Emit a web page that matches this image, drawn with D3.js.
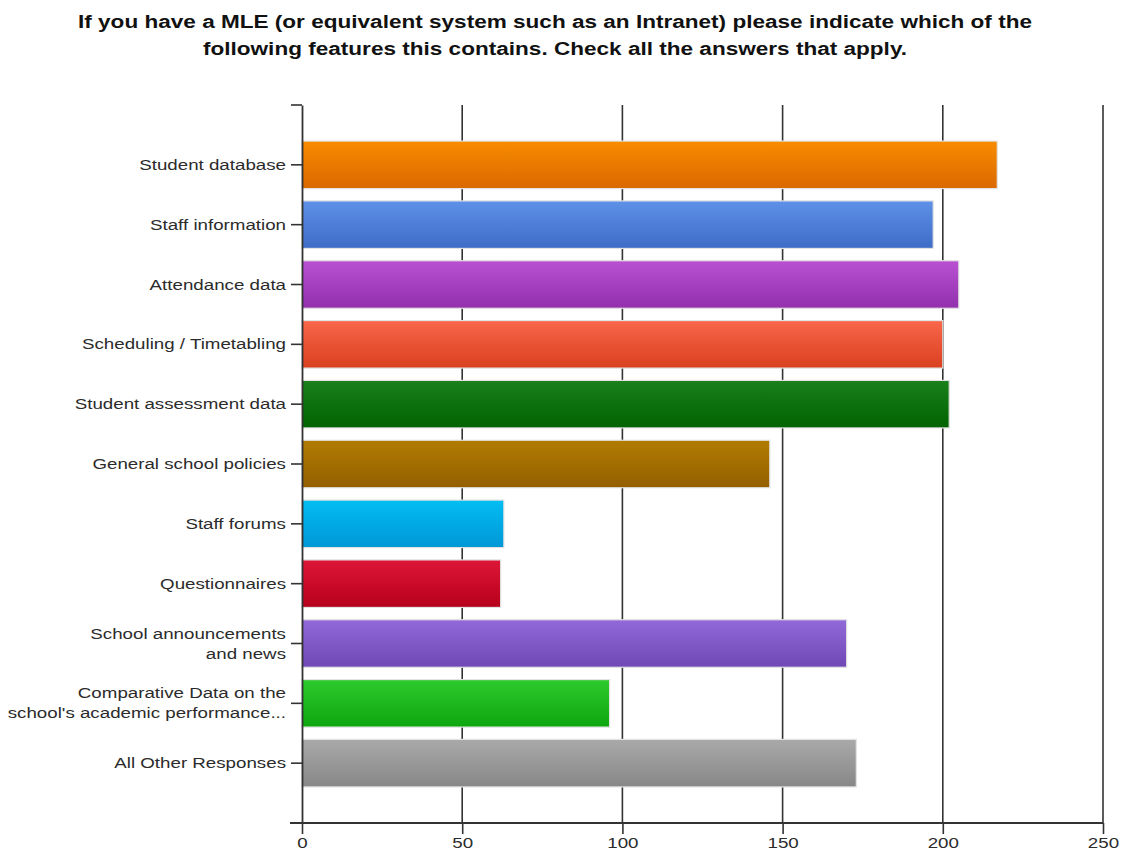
<!DOCTYPE html>
<html>
<head>
<meta charset="utf-8">
<script src="https://cdn.jsdelivr.net/npm/d3@7"></script>
<style>
  html, body { margin: 0; padding: 0; background: #fff; }
  svg { display: block; }
</style>
</head>
<body>
<svg id="chart" width="1123" height="854"></svg>
<script>
// Survey answers: feature present in the school's MLE / intranet
const categories = [
  "Student database",
  "Staff information",
  "Attendance data",
  "Scheduling / Timetabling",
  "Student assessment data",
  "General school policies",
  "Staff forums",
  "Questionnaires",
  "School announcements\nand news",
  "Comparative Data on the\nschool's academic performance...",
  "All Other Responses"
];
const counts = [217, 197, 205, 200, 202, 146, 63, 62, 170, 96, 173];
// top / bottom shades of each bar's vertical gradient
const colorsTop    = ["#f88c00", "#5e91e8", "#b950d2", "#f9664a", "#1a801a", "#b27c02", "#03bdf3", "#dd1637", "#9169d8", "#2dca2d", "#a9a9a9"];
const colorsBottom = ["#da6800", "#3e6cc6", "#9230ae", "#d9401f", "#006300", "#935f00", "#0097d6", "#b6001b", "#6f48b6", "#0ea60e", "#878787"];
const xTicks = [0, 50, 100, 150, 200, 250];
const titleLines = [
  "If you have a MLE (or equivalent system such as an Intranet) please indicate which of the",
  "following features this contains. Check all the answers that apply."
];

const svg = d3.select("#chart");
const plotLeft = 302, plotRight = 1103, plotTop = 105, plotBottom = 823;
const font = "Liberation Sans, Arial, sans-serif";

const x = d3.scaleLinear().domain([0, 250]).range([plotLeft, plotRight]);
const y = d3.scaleBand().domain(categories).range([plotTop, plotBottom])
  .paddingInner(0.206).paddingOuter(0.603);

// title (glyphs drawn slightly wide)
svg.append("g").selectAll("text").data(titleLines).join("text")
  .attr("transform", (d, i) => `translate(555,${28 + i * 27}) scale(1.22,1)`)
  .attr("text-anchor", "middle")
  .attr("font-family", font)
  .attr("font-weight", "bold").attr("font-size", 18.5)
  .attr("fill", "#111").text(d => d);

// gradients
const defs = svg.append("defs");
categories.forEach((c, i) => {
  const g = defs.append("linearGradient").attr("id", "grad" + i)
    .attr("x1", 0).attr("y1", 0).attr("x2", 0).attr("y2", 1);
  g.append("stop").attr("offset", "0%").attr("stop-color", colorsTop[i]);
  g.append("stop").attr("offset", "100%").attr("stop-color", colorsBottom[i]);
});

// vertical grid lines
svg.append("g").selectAll("line").data(xTicks.filter(t => t > 0)).join("line")
  .attr("x1", d => x(d)).attr("x2", d => x(d))
  .attr("y1", plotTop).attr("y2", plotBottom)
  .attr("stroke", "#333").attr("stroke-width", 1.6);

// bars
svg.append("g").selectAll("rect").data(categories).join("rect")
  .attr("x", x(0))
  .attr("y", d => y(d))
  .attr("width", (d, i) => x(counts[i]) - x(0))
  .attr("height", y.bandwidth())
  .attr("fill", (d, i) => `url(#grad${i})`)
  .attr("stroke", "#e2e2e2").attr("stroke-width", 1.2);

// y axis
const yAxis = d3.axisLeft(y).tickSize(11).tickSizeOuter(0).tickFormat("");
const gy = svg.append("g").attr("transform", `translate(${plotLeft},0)`).call(yAxis);
gy.selectAll("line").attr("stroke", "#333").attr("stroke-width", 1.6);
gy.select(".domain").attr("stroke", "#333").attr("stroke-width", 1.8);
gy.append("line").attr("x1", -11).attr("x2", 0).attr("y1", plotTop).attr("y2", plotTop)
  .attr("stroke", "#333").attr("stroke-width", 1.6);

// category labels (wrapped on \n, glyphs drawn wide)
const labels = svg.append("g")
  .attr("font-family", font)
  .attr("font-size", 14.2).attr("fill", "#2b2b2b").attr("text-anchor", "end");
categories.forEach(c => {
  const lines = c.split("\n");
  const cy = y(c) + y.bandwidth() / 2;
  lines.forEach((ln, k) => {
    const ty = cy + 5 + (k - (lines.length - 1) / 2) * 20;
    labels.append("text")
      .attr("transform", `translate(286,${ty}) scale(1.32,1)`)
      .text(ln);
  });
});

// x axis
const xAxis = d3.axisBottom(x).tickValues(xTicks).tickSize(11).tickSizeOuter(0);
const gx = svg.append("g").attr("transform", `translate(0,${plotBottom})`).call(xAxis);
gx.select(".domain").remove();
gx.append("line").attr("x1", 290).attr("x2", plotRight).attr("y1", 0).attr("y2", 0)
  .attr("stroke", "#333").attr("stroke-width", 1.8);
gx.selectAll(".tick line").attr("stroke", "#333").attr("stroke-width", 1.6);
gx.selectAll(".tick text").attr("y", 14)
  .attr("transform", "scale(1.25,1)")
  .attr("font-family", font)
  .attr("font-size", 15).attr("fill", "#2b2b2b");
</script>
</body>
</html>
